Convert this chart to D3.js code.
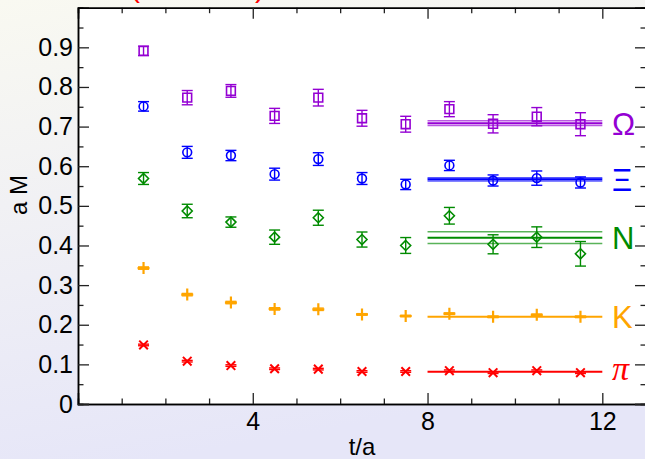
<!DOCTYPE html>
<html>
<head>
<meta charset="utf-8">
<script src="https://cdn.jsdelivr.net/npm/d3@7"></script>
<style>
  body { margin: 0; padding: 0; }
  svg { display: block; }
</style>
</head>
<body>
<div class="chart-container"></div>
<script>
// data: effective masses vs t/a
const tValues = [1.5, 2.5, 3.5, 4.5, 5.5, 6.5, 7.5, 8.5, 9.5, 10.5, 11.5];

const omegaM   = [0.891, 0.773, 0.790, 0.727, 0.773, 0.721, 0.706, 0.744, 0.707, 0.725, 0.706];
const omegaErr = [0.012, 0.018, 0.016, 0.019, 0.021, 0.020, 0.020, 0.019, 0.023, 0.023, 0.029];
const xiM      = [0.751, 0.635, 0.627, 0.580, 0.618, 0.569, 0.554, 0.602, 0.564, 0.570, 0.559];
const xiErr    = [0.012, 0.015, 0.013, 0.015, 0.016, 0.015, 0.013, 0.013, 0.014, 0.018, 0.014];
const nucM     = [0.569, 0.487, 0.459, 0.421, 0.470, 0.415, 0.400, 0.475, 0.403, 0.421, 0.379];
const nucErr   = [0.015, 0.017, 0.013, 0.018, 0.019, 0.019, 0.020, 0.021, 0.024, 0.026, 0.031];
const kaonM    = [0.343, 0.276, 0.256, 0.240, 0.239, 0.226, 0.222, 0.228, 0.220, 0.225, 0.220];
const kaonErr  = [0.003, 0.003, 0.003, 0.003, 0.003, 0.002, 0.002, 0.002, 0.002, 0.002, 0.002];
const pionM    = [0.149, 0.108, 0.097, 0.089, 0.088, 0.082, 0.082, 0.084, 0.079, 0.084, 0.079];
const pionErr  = [0.002, 0.002, 0.002, 0.002, 0.002, 0.002, 0.002, 0.002, 0.002, 0.002, 0.002];

// plateau fits
const fitRange = [8, 12];
const particleNames = ["Ω", "Ξ", "N", "K", "π"];
const fitM   = [0.7085, 0.567, 0.4197, 0.2204, 0.0816];
const fitErr = [0.006, 0.0042, 0.015, 0, 0];

// tick values
const xMajorTicks = [4, 8, 12];
const xMinorTicks = [1, 2, 3, 5, 6, 7, 9, 10, 11];
const yMajorTicks = [0, 0.1, 0.2, 0.3, 0.4, 0.5, 0.6, 0.7, 0.8, 0.9];
const yMinorTicks = [0.05, 0.15, 0.25, 0.35, 0.45, 0.55, 0.65, 0.75, 0.85, 0.95];

const W = 645, H = 459;
const plotLeft = 78, plotRight = 646, plotTop = 7.7, plotBottom = 404;

const svg = d3.select(".chart-container")
    .append("svg")
    .attr("width", W)
    .attr("height", H);

// background with a faint gradient
const grad = svg.append("defs").append("linearGradient")
    .attr("id", "bg").attr("x1", 0).attr("y1", 0).attr("x2", 0.25).attr("y2", 1);
grad.append("stop").attr("offset", "0%").attr("stop-color", "#f9f9f1");
grad.append("stop").attr("offset", "100%").attr("stop-color", "#e6e6f8");
svg.append("rect").attr("width", W).attr("height", H).attr("fill", "url(#bg)");

svg.append("rect")
    .attr("x", plotLeft).attr("y", plotTop)
    .attr("width", plotRight - plotLeft).attr("height", plotBottom - plotTop)
    .attr("fill", "white");

// title, cut off at the top edge like in the original
svg.append("text")
    .attr("x", 130).attr("y", -3.5)
    .attr("font-family", "Liberation Sans, Arial, sans-serif")
    .attr("font-size", 30)
    .attr("fill", "#ff0000")
    .text("(Nf = 2+1)");

const xScale = d3.scaleLinear().domain([0, 13]).range([plotLeft, plotRight]);
const yScale = d3.scaleLinear().domain([0, 1]).range([plotBottom, plotTop]);

const font = "Liberation Sans, Arial, Helvetica, sans-serif";

// axes: ticks point inward on all four sides
function styleAxis(g) {
    g.selectAll(".domain").attr("stroke", "#000").attr("stroke-width", 1.5);
    g.selectAll(".tick line").attr("stroke", "#222").attr("stroke-width", 1.3);
    g.selectAll(".tick text").attr("font-family", font).attr("font-size", 25).attr("fill", "#000");
}

svg.append("g")
    .attr("transform", "translate(0," + plotBottom + ")")
    .call(d3.axisBottom(xScale).tickValues(xMinorTicks).tickSize(-5.5).tickFormat(""))
    .call(styleAxis);
svg.append("g")
    .attr("transform", "translate(0," + plotBottom + ")")
    .call(d3.axisBottom(xScale).tickValues(xMajorTicks).tickSize(-11).tickPadding(8).tickFormat(d3.format("d")))
    .call(styleAxis);
svg.append("g")
    .attr("transform", "translate(0," + plotTop + ")")
    .call(d3.axisTop(xScale).tickValues(xMinorTicks).tickSize(-5.5).tickFormat(""))
    .call(styleAxis);
svg.append("g")
    .attr("transform", "translate(0," + plotTop + ")")
    .call(d3.axisTop(xScale).tickValues(xMajorTicks).tickSize(-11).tickFormat(""))
    .call(styleAxis);

svg.append("g")
    .attr("transform", "translate(" + plotLeft + ",0)")
    .call(d3.axisLeft(yScale).tickValues(yMinorTicks).tickSize(-5.5).tickFormat(""))
    .call(styleAxis);
svg.append("g")
    .attr("transform", "translate(" + plotLeft + ",0)")
    .call(d3.axisLeft(yScale).tickValues(yMajorTicks).tickSize(-11).tickPadding(5).tickFormat(d => d === 0 ? "0" : d3.format(".1f")(d)))
    .call(styleAxis);
svg.append("g")
    .attr("transform", "translate(" + plotRight + ",0)")
    .call(d3.axisRight(yScale).tickValues(yMinorTicks).tickSize(-5.5).tickFormat(""))
    .call(styleAxis);
svg.append("g")
    .attr("transform", "translate(" + plotRight + ",0)")
    .call(d3.axisRight(yScale).tickValues(yMajorTicks).tickSize(-11).tickFormat(""))
    .call(styleAxis);

// axis titles
svg.append("text")
    .attr("x", (plotLeft + plotRight) / 2).attr("y", 455)
    .attr("text-anchor", "middle")
    .attr("font-family", font).attr("font-size", 24)
    .text("t/a");
svg.append("text")
    .attr("transform", "translate(27,195) rotate(-90)")
    .attr("text-anchor", "middle")
    .attr("font-family", font).attr("font-size", 24)
    .text("a M");

// marker shapes
const shapes = {
    square:  h => `M${-h},${-h}H${h}V${h}H${-h}Z`,
    circle:  h => `M${h},0A${h},${h} 0 1,1 ${-h},0A${h},${h} 0 1,1 ${h},0Z`,
    diamond: h => `M0,${-h}L${h},0L0,${h}L${-h},0Z`,
    plus:    h => `M${-h},0H${h}M0,${-h}V${h}`,
    cross:   h => `M${-h},${-h}L${h},${h}M${-h},${h}L${h},${-h}`
};

const series = [
    { m: omegaM, err: omegaErr, color: "#9400d3", shape: "square",  size: 4.4, sw: 1.6 },
    { m: xiM,    err: xiErr,    color: "#0000ff", shape: "circle",  size: 4.4, sw: 1.6 },
    { m: nucM,   err: nucErr,   color: "#008b00", shape: "diamond", size: 5,   sw: 1.6 },
    { m: kaonM,  err: kaonErr,  color: "#ffa500", shape: "plus",    size: 6,   sw: 2.2 },
    { m: pionM,  err: pionErr,  color: "#ff0000", shape: "cross",   size: 4.3, sw: 2 }
];

// plateau fit lines with error band
series.forEach(function(s, i) {
    const g = svg.append("g");
    const lines = fitErr[i] > 0 ? [-1, 0, 1] : [0];
    g.selectAll("line")
        .data(lines)
        .join("line")
        .attr("x1", xScale(fitRange[0]))
        .attr("x2", xScale(fitRange[1]))
        .attr("y1", d => yScale(fitM[i] + d * fitErr[i]))
        .attr("y2", d => yScale(fitM[i] + d * fitErr[i]))
        .attr("stroke", s.color)
        .attr("stroke-width", d => d === 0 ? 2 : 1.5)
        .attr("stroke-opacity", d => d === 0 ? 1 : 0.65);
});

// data points with error bars
series.forEach(function(s) {
    const pts = tValues.map((t, j) => ({ t: t, m: s.m[j], e: s.err[j] }));
    const g = svg.append("g")
        .attr("stroke", s.color)
        .attr("fill", "none");

    const eb = g.selectAll("g.eb")
        .data(pts)
        .join("g")
        .classed("eb", true)
        .attr("stroke-width", 1.4);
    eb.append("line")
        .attr("x1", d => xScale(d.t)).attr("x2", d => xScale(d.t))
        .attr("y1", d => yScale(d.m - d.e)).attr("y2", d => yScale(d.m + d.e));
    [-1, 1].forEach(function(sign) {
        eb.append("line")
            .attr("x1", d => xScale(d.t) - 5.5).attr("x2", d => xScale(d.t) + 5.5)
            .attr("y1", d => yScale(d.m + sign * d.e)).attr("y2", d => yScale(d.m + sign * d.e));
    });

    g.selectAll("path.marker")
        .data(pts)
        .join("path")
        .classed("marker", true)
        .attr("transform", d => "translate(" + xScale(d.t) + "," + yScale(d.m) + ")")
        .attr("d", shapes[s.shape](s.size))
        .attr("stroke-width", s.sw);
});

// particle labels at the right
svg.selectAll("text.name")
    .data(particleNames)
    .join("text")
    .classed("name", true)
    .attr("x", 612)
    .attr("y", (d, i) => yScale(fitM[i]) + (d === "π" ? 8 : 11.5))
    .attr("font-family", d => d === "π" ? "Liberation Serif, serif" : font)
    .attr("font-style", d => d === "π" ? "italic" : "normal")
    .attr("font-size", d => d === "π" ? 34 : 31)
    .attr("fill", (d, i) => series[i].color)
    .text(d => d);
</script>
</body>
</html>
